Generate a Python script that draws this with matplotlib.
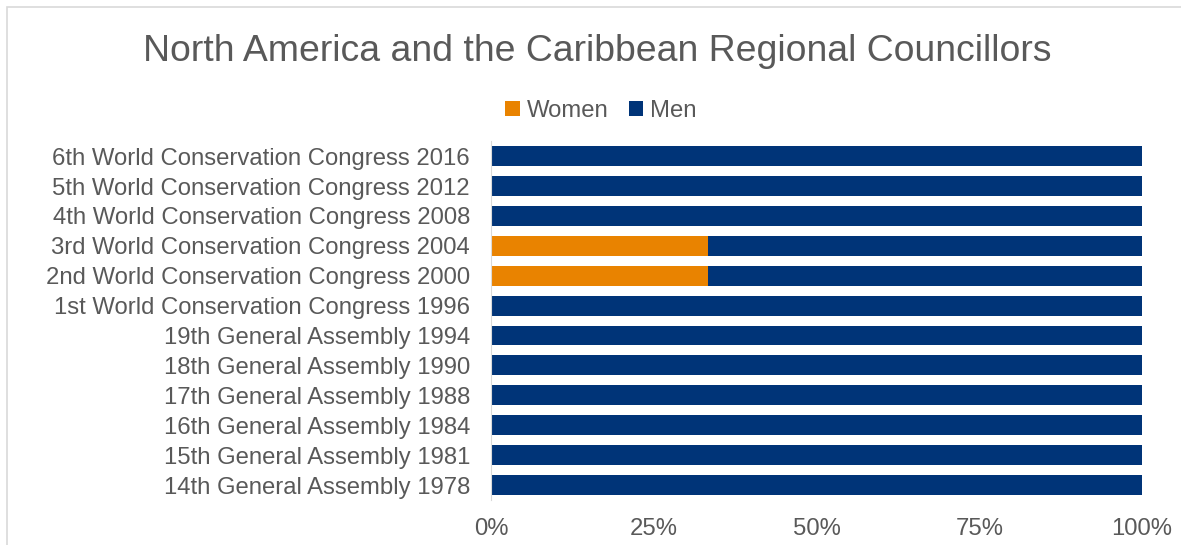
import matplotlib.pyplot as plt
from matplotlib.patches import Rectangle

plt.rcParams['font.family'] = ['Liberation Sans', 'DejaVu Sans']

congresses = ['14th General Assembly 1978', '15th General Assembly 1981',
              '16th General Assembly 1984', '17th General Assembly 1988',
              '18th General Assembly 1990', '19th General Assembly 1994',
              '1st World Conservation Congress 1996',
              '2nd World Conservation Congress 2000',
              '3rd World Conservation Congress 2004',
              '4th World Conservation Congress 2008',
              '5th World Conservation Congress 2012',
              '6th World Conservation Congress 2016']
women = [0, 0, 0, 0, 0, 0, 0, 1/3, 1/3, 0, 0, 0]
men = [1, 1, 1, 1, 1, 1, 1, 2/3, 2/3, 1, 1, 1]
ticks = [0, 0.25, 0.5, 0.75, 1.0]
tick_labels = ['0%', '25%', '50%', '75%', '100%']

orange = '#E98300'
navy = '#003478'
grey = '#595959'

fig = plt.figure(figsize=(11.81, 5.45), dpi=100)
ax = fig.add_axes([0.4157, 0.0826, 0.5513, 0.6584])

y = range(len(congresses))
ax.barh(y, women, height=0.667, color=orange, label='Women')
ax.barh(y, men, left=women, height=0.667, color=navy, label='Men')

ax.set_ylim(-0.5, len(congresses) - 0.5)
ax.set_xlim(0, 1)
ax.set_yticks(list(y))
ax.set_yticklabels(congresses, fontsize=17.2, color=grey)
ax.set_xticks(ticks)
ax.set_xticklabels(tick_labels, fontsize=17.2, color=grey)
ax.tick_params(length=0)
ax.tick_params(axis='y', pad=15)
ax.tick_params(axis='x', pad=13)
for s in ['top', 'right', 'bottom']:
    ax.spines[s].set_visible(False)
ax.spines['left'].set_color('#D9D9D9')

fig.text(0.506, 0.906, 'North America and the Caribbean Regional Councillors',
         ha='center', va='center', fontsize=26.9, color=grey)
ax.legend(loc='center', bbox_to_anchor=(0.509, 0.797), bbox_transform=fig.transFigure,
          ncol=2, frameon=False, fontsize=17.2, labelcolor=grey,
          handlelength=0.6, handleheight=0.6, handletextpad=0.3, columnspacing=0.85)

fig.patches.append(Rectangle((7 / 1181, -0.1), 1.2, 1 - 7 / 545 + 0.1, transform=fig.transFigure,
                             fill=False, edgecolor='#D9D9D9', linewidth=1.2))

fig.savefig('out.png', dpi=100)
